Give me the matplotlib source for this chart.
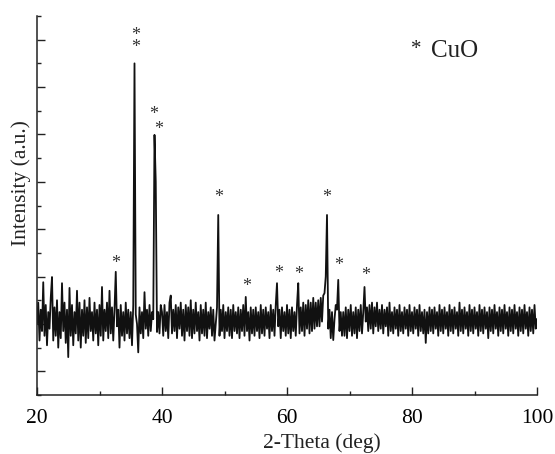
import numpy as np
import matplotlib
matplotlib.use("Agg")
import matplotlib.pyplot as plt
from matplotlib.ticker import MultipleLocator

# ---- data (intensity x100, sampled every 0.2 deg from 20 to 100) ----
intensity_x100 = [
    150, 195, 115, 180, 135,   # 20
    238, 125, 190, 105, 175,   # 21
    140, 205, 249, 115, 185,   # 22
    125, 200, 100, 175, 120,   # 23
    236, 135, 195, 110, 180,   # 24
    80, 226, 125, 190, 105,    # 25
    175, 130, 220, 115, 195,   # 26
    100, 180, 125, 200, 110,   # 27
    185, 120, 205, 135, 175,   # 28
    115, 195, 130, 180, 105,   # 29
    190, 125, 228, 115, 180,   # 30
    135, 195, 120, 220, 130,   # 31
    185, 115, 180, 260, 145,   # 32
    180, 100, 190, 125, 175,   # 33
    115, 195, 130, 180, 120,   # 34
    175, 105, 190, 700, 170,   # 35
    150, 90, 185, 130, 175,    # 36
    120, 217, 140, 180, 125,   # 37
    190, 135, 175, 160, 549,   # 38
    450, 133, 175, 130, 190,   # 39
    175, 125, 190, 135, 175,   # 40
    120, 195, 210, 130, 180,   # 41
    135, 190, 120, 185, 140,   # 42
    195, 125, 180, 115, 190,   # 43
    135, 185, 125, 200, 120,   # 44
    180, 130, 195, 135, 175,   # 45
    115, 190, 130, 180, 125,   # 46
    195, 120, 175, 140, 185,   # 47
    125, 180, 115, 150, 185,   # 48
    380, 125, 180, 135, 190,   # 49
    120, 175, 135, 185, 125,   # 50
    180, 120, 190, 135, 175,   # 51
    130, 185, 120, 180, 135,   # 52
    190, 125, 207, 135, 175,   # 53
    115, 185, 130, 180, 125,   # 54
    185, 135, 175, 120, 190,   # 55
    130, 180, 125, 185, 140,   # 56
    175, 120, 190, 135, 180,   # 57
    125, 190, 236, 145, 180,   # 58
    120, 185, 135, 175, 125,   # 59
    190, 130, 180, 120, 185,   # 60
    135, 175, 125, 190, 236,   # 61
    130, 185, 135, 195, 125,   # 62
    190, 140, 200, 130, 195,   # 63
    135, 205, 140, 195, 145,   # 64
    200, 145, 205, 155, 210,   # 65
    215, 250, 380, 140, 180,   # 66
    120, 175, 116, 160, 190,   # 67
    180, 243, 135, 175, 125,   # 68
    175, 125, 185, 120, 180,   # 69
    135, 190, 125, 175, 130,   # 70
    185, 120, 180, 135, 190,   # 71
    130, 175, 228, 155, 185,   # 72
    135, 190, 140, 195, 130,   # 73
    185, 145, 195, 135, 180,   # 74
    140, 190, 130, 180, 145,   # 75
    185, 125, 195, 135, 175,   # 76
    130, 185, 140, 180, 125,   # 77
    190, 135, 175, 130, 185,   # 78
    140, 180, 125, 190, 135,   # 79
    175, 130, 185, 140, 180,   # 80
    125, 190, 135, 175, 130,   # 81
    180, 110, 175, 130, 185,   # 82
    135, 180, 130, 185, 140,   # 83
    175, 125, 190, 135, 180,   # 84
    130, 185, 140, 175, 125,   # 85
    190, 135, 180, 130, 185,   # 86
    140, 175, 125, 195, 135,   # 87
    180, 130, 185, 140, 175,   # 88
    125, 190, 135, 180, 130,   # 89
    185, 140, 175, 125, 190,   # 90
    135, 180, 130, 185, 140,   # 91
    175, 120, 185, 135, 180,   # 92
    130, 190, 140, 175, 125,   # 93
    185, 135, 180, 130, 190,   # 94
    140, 175, 125, 185, 135,   # 95
    180, 130, 190, 140, 175,   # 96
    125, 185, 135, 180, 130,   # 97
    190, 140, 175, 125, 185,   # 98
    135, 180, 130, 190, 140,   # 99
    160,                       # 100
]
angle_start, angle_stop = 20.0, 100.0

# CuO reflection marks (asterisk label positions: 2-theta, intensity, number of stars)
star_marks = [
    (32.6, 2.78, 1), (35.85, 7.47, 2), (38.7, 5.93, 1), (39.4, 5.61, 1),
    (49.1, 4.16, 1), (53.6, 2.30, 1), (58.6, 2.57, 1), (61.8, 2.55, 1),
    (66.4, 4.16, 1), (68.3, 2.74, 1), (72.5, 2.53, 1),
]
legend_text = "CuO"
x_label = "2-Theta (deg)"
y_label = "Intensity (a.u.)"
x_ticks = [20, 40, 60, 80, 100]

# ---- plot ----
plt.rcParams['font.family'] = ['Liberation Serif', 'DejaVu Serif']
y = np.array(intensity_x100) / 100.0
x = np.linspace(angle_start, angle_stop, len(y))

W, H = 555, 454
fig = plt.figure(figsize=(W / 100, H / 100), dpi=100)
ax = fig.add_axes([37 / W, 59 / H, 500 / W, 379 / H])
ax.plot(x, y, color='#111111', lw=1.3)

ax.set_xlim(20, 100)
ax.set_ylim(0, 8)
ax.set_xticks(x_ticks)
ax.xaxis.set_minor_locator(MultipleLocator(10))
ax.set_yticks(np.arange(0.5, 8, 1.0))
ax.yaxis.set_minor_locator(MultipleLocator(1.0))
ax.set_yticklabels([])
ax.tick_params(which='both', direction='in', color='#222222', width=1.0)
ax.tick_params(which='major', length=6, labelsize=15.5, pad=10)
ax.tick_params(which='minor', length=3)
for side in ('top', 'right'):
    ax.spines[side].set_visible(False)
for side in ('left', 'bottom'):
    ax.spines[side].set_linewidth(1.1)
    ax.spines[side].set_color('#222222')

fig.text(322 / W, 1 - 443 / H, x_label, fontsize=15.5, ha='center', va='center', color='#222222')
fig.text(21 / W, 1 - 183 / H, y_label, fontsize=15.5, rotation=90, ha='center', va='center', color='#222222')

for sx, sy, n in star_marks:
    ax.text(sx, sy, "\n".join(["*"] * n), fontsize=13, ha='center', va='center',
            multialignment='center', linespacing=0.62, color='#333333')

fig.text(416 / W, 1 - 49 / H, "*", fontsize=15, ha='center', va='center', color='#222222')
fig.text(431 / W, 1 - 51 / H, legend_text, fontsize=18, ha='left', va='center', color='#222222')

fig.savefig("out.png", dpi=100)
